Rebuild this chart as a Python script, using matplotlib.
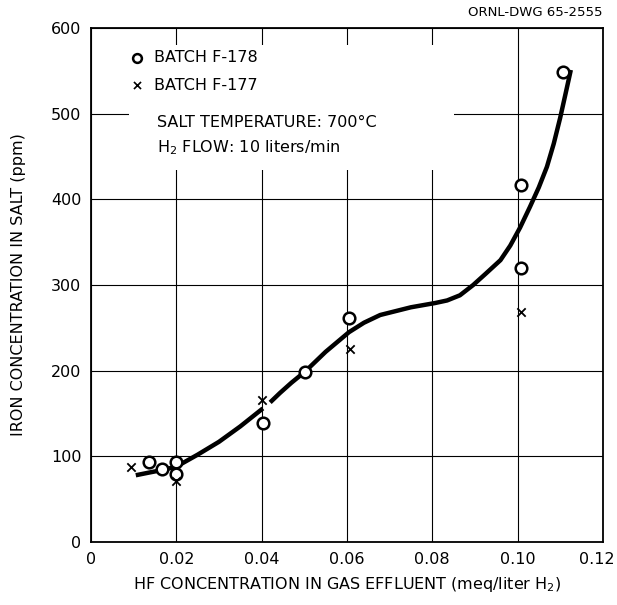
import matplotlib
matplotlib.use("Agg")
import matplotlib.pyplot as plt
from matplotlib.patches import Rectangle
from matplotlib.transforms import ScaledTranslation

# Data
f178_x = [0.0135, 0.0166, 0.020, 0.020, 0.0403, 0.0502, 0.0605, 0.1008, 0.1008, 0.1106]
f178_y = [94, 85, 94, 80, 139, 199, 262, 417, 320, 549]
f177_x = [0.0094, 0.020, 0.040, 0.0607, 0.1008]
f177_y = [88, 71, 166, 225, 268]

curve1_x = [0.0105, 0.0135, 0.0166, 0.020, 0.025, 0.030, 0.035, 0.0403]
curve1_y = [78, 81, 84, 88, 102, 117, 135, 156]
curve2_x = [0.042, 0.0443, 0.047, 0.0502, 0.055, 0.0605, 0.064, 0.0678, 0.075, 0.0807,
            0.0835, 0.0865, 0.0896, 0.0925, 0.096, 0.0983, 0.1006, 0.1029, 0.105,
            0.1069, 0.1085, 0.110, 0.1113, 0.1125]
curve2_y = [163, 174, 186, 199, 222, 245, 256, 265, 274, 279,
            282, 288, 300, 313, 329, 346, 367, 391, 414,
            438, 465, 495, 524, 551]

x_ticks = [0, 0.02, 0.04, 0.06, 0.08, 0.10, 0.12]
x_ticklabels = ["0", "0.02", "0.04", "0.06", "0.08", "0.10", "0.12"]
y_ticks = [0, 100, 200, 300, 400, 500, 600]
y_ticklabels = ["0", "100", "200", "300", "400", "500", "600"]

plt.rcParams['font.family'] = ['DejaVu Sans']

fig = plt.figure(figsize=(6.17, 6.05), dpi=100)
ax = fig.add_axes([0.1475, 0.104, 0.8295, 0.8498])
ax.set_xlim(0, 0.12)
ax.set_ylim(0, 600)
ax.set_xticks(x_ticks)
ax.set_xticklabels(x_ticklabels)
ax.set_yticks(y_ticks)
ax.set_yticklabels(y_ticklabels)
ax.tick_params(length=0, labelsize=11.5, pad=7)
ax.grid(True, color='black', linewidth=0.8)
ax.set_axisbelow(True)
for s in ax.spines.values():
    s.set_linewidth(1.3)

# keep last x tick label inside the figure
last = ax.get_xticklabels()[-1]
last.set_transform(last.get_transform() + ScaledTranslation(-6 / 100, 0, fig.dpi_scale_trans))

# blank region behind legend/annotations
ax.add_patch(Rectangle((0.009, 434), 0.076, 146, facecolor='white',
                       edgecolor='none', zorder=1.5))

ax.plot(curve1_x, curve1_y, color='black', linewidth=3.2, solid_capstyle='butt',
        solid_joinstyle='round', zorder=3)
ax.plot(curve2_x, curve2_y, color='black', linewidth=3.2, solid_capstyle='butt',
        solid_joinstyle='round', zorder=3)

ax.scatter(f178_x, f178_y, s=70, facecolors='white', edgecolors='black',
           linewidths=1.8, zorder=4)
ax.scatter(f177_x, f177_y, s=36, marker='x', color='black', linewidths=1.3, zorder=4)

# legend-like annotations
ax.scatter([0.0108], [565], s=40, facecolors='white', edgecolors='black',
           linewidths=1.8, zorder=5)
ax.scatter([0.0108], [533], s=26, marker='x', color='black', linewidths=1.2, zorder=5)
ax.text(0.0147, 565, "BATCH F-178", fontsize=11.5, va='center', ha='left', zorder=5)
ax.text(0.0147, 533, "BATCH F-177", fontsize=11.5, va='center', ha='left', zorder=5)
ax.text(0.0155, 490, "SALT TEMPERATURE: 700°C", fontsize=11.5, va='center', ha='left', zorder=5)
ax.text(0.0155, 460, r"H$_2$ FLOW: 10 liters/min", fontsize=11.5, va='center', ha='left', zorder=5)

ax.set_xlabel(r"HF CONCENTRATION IN GAS EFFLUENT (meq/liter H$_2$)", fontsize=11.5, labelpad=6)
ax.set_ylabel("IRON CONCENTRATION IN SALT (ppm)", fontsize=11.5, labelpad=18)

fig.text(0.977, 0.98, "ORNL-DWG 65-2555", fontsize=9.5, ha='right', va='center')

fig.savefig("out.png", dpi=100)
